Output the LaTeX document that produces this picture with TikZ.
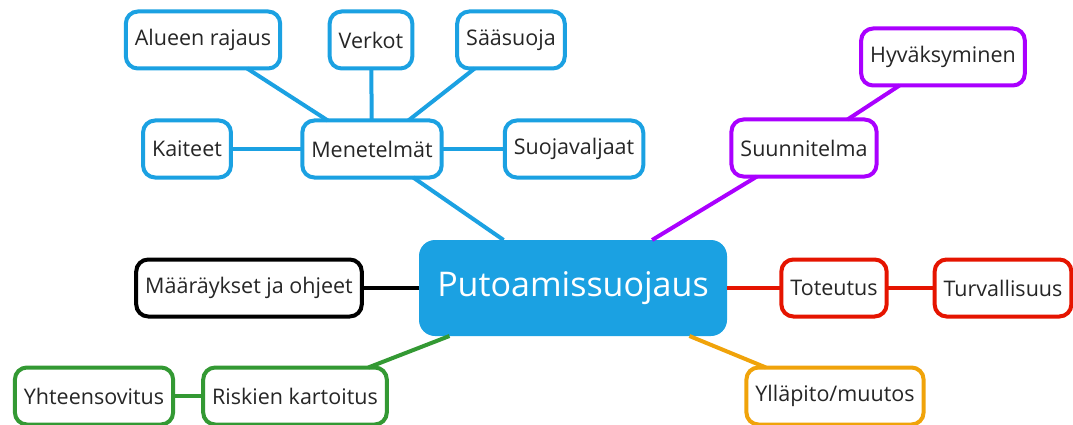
\documentclass[tikz,border=0pt]{standalone}
\usepackage{fontspec}
\setmainfont{Open Sans}

\definecolor{mblue}{HTML}{1BA1E2}
\definecolor{mpurple}{HTML}{AA00FF}
\definecolor{mred}{HTML}{E51400}
\definecolor{morange}{HTML}{F0A30A}
\definecolor{mgreen}{HTML}{339933}

\begin{document}
\begin{tikzpicture}[x=1pt, y=-1pt] %one unit is one pixel of the picture, y runs down
\useasboundingbox (0,0) rectangle (1073,425);
\tikzstyle{every node} = [draw, fill=white, rounded corners=12pt, line width=4pt, outer sep=0pt, minimum height=57pt, inner xsep=9pt, text=black!85, font=\fontsize{21.5}{24}\selectfont]
\tikzstyle{link} = [line width=4pt]
% the centre
\node [fill=mblue, draw=none, text=white, rounded corners=16pt, minimum width=308pt, minimum height=96pt, font=\fontsize{34}{38}\selectfont] (putoa) at (573, 288) {Putoamissuojaus};
% methods
\node [draw=mblue] (men) at (372, 149) {Menetelmät};
\node [draw=mblue] (alue) at (203, 40) {Alueen rajaus};
\node [draw=mblue] (verk) at (371, 40) {Verkot};
\node [draw=mblue] (saa) at (511, 40) {Sääsuoja};
\node [draw=mblue] (kai) at (187, 149) {Kaiteet};
\node [draw=mblue] (suoj) at (574, 149) {Suojavaljaat};
% plan
\node [draw=mpurple] (suun) at (804, 148) {Suunnitelma};
\node [draw=mpurple] (hyv) at (943, 57) {Hyväksyminen};
% the others
\node [draw=black] (maar) at (249, 288) {Määräykset ja ohjeet};
\node [draw=mred] (tot) at (834, 288) {Toteutus};
\node [draw=mred] (turv) at (1003, 288) {Turvallisuus};
\node [draw=morange] (yll) at (835, 396) {Ylläpito/muutos};
\node [draw=mgreen] (risk) at (295, 396) {Riskien kartoitus};
\node [draw=mgreen] (yht) at (94, 396) {Yhteensovitus};
\foreach \from/\to in {putoa/men, men/alue, men/verk, men/saa, men/kai, men/suoj}
\draw [link, mblue] (\from) -- (\to);
\foreach \from/\to in {putoa/suun, suun/hyv}
\draw [link, mpurple] (\from) -- (\to);
\foreach \from/\to in {putoa/tot, tot/turv}
\draw [link, mred] (\from) -- (\to);
\foreach \from/\to in {putoa/risk, risk/yht}
\draw [link, mgreen] (\from) -- (\to);
\draw [link, morange] (putoa) -- (yll);
\draw [link, black] (putoa) -- (maar);
\end{tikzpicture}
\end{document}
